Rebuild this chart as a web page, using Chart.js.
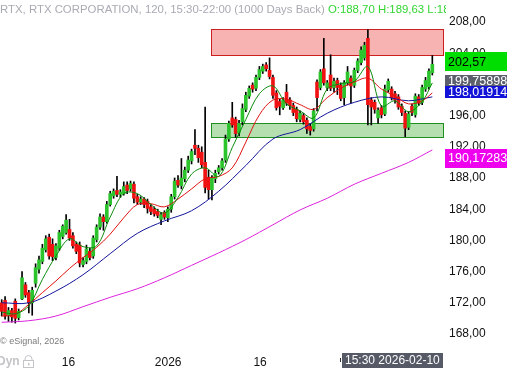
<!DOCTYPE html>
<html>
<head>
<meta charset="utf-8">
<script src="https://cdn.jsdelivr.net/npm/chart.js@4.4.1/dist/chart.umd.min.js"></script>
<style>
  html, body { margin: 0; padding: 0; background: #fff; }
  #wrap { width: 507px; height: 368px; position: relative; }
</style>
</head>
<body>
<div id="wrap"><canvas id="chart"></canvas></div>
<script>
// RTX, 120 min candles
const candleOpen = [
  172.0, 172.3, 170.4, 171.0, 172.2, 170.1, 172.5, 174.3, 173.3, 172.0,
  174.5, 176.3, 177.3, 178.8, 180.4, 179.5, 177.8, 179.0, 180.5, 181.0,
  181.4, 180.6, 179.5, 179.4, 176.9, 177.3, 178.6, 178.0, 180.1, 181.7,
  183.0, 182.4, 184.6, 185.7, 186.4, 185.9, 186.0, 187.1, 186.6, 187.2,
  185.6, 184.9, 185.3, 185.0, 184.3, 184.0, 183.7, 182.7, 183.6, 182.9,
  184.0, 185.6, 187.7, 187.0, 187.9, 189.0, 190.2, 192.2, 191.8, 191.3,
  190.0, 188.1, 186.5, 187.9, 188.8, 189.3, 190.3, 193.0, 195.7, 195.5,
  193.8, 195.2, 196.8, 198.5, 199.9, 199.5, 200.9, 201.7, 202.5, 201.8,
  200.9, 198.9, 197.8, 197.0, 199.0, 198.0, 197.3, 196.8, 195.5, 196.0,
  195.4, 194.6, 194.3, 200.3, 199.6, 202.0, 199.6, 201.2, 199.6, 200.5,
  199.9, 198.3, 200.2, 200.8, 199.9, 201.8, 202.8, 203.4, 205.9, 198.0,
  197.7, 195.7, 197.0, 196.2, 199.3, 199.4, 198.8, 198.4, 197.2, 196.3,
  194.5, 197.2, 196.1, 198.4, 197.7, 199.4, 199.7, 201.5
];
const candleHigh = [
  172.4, 172.8, 171.4, 171.3, 172.5, 171.2, 176.0, 174.6, 173.6, 174.0,
  177.0, 178.0, 179.5, 180.6, 180.8, 180.2, 179.6, 181.3, 182.0, 183.3,
  182.7, 181.0, 179.8, 179.8, 177.8, 179.4, 179.0, 180.6, 182.0, 183.4,
  183.3, 185.0, 186.3, 186.6, 188.2, 186.5, 187.5, 187.5, 187.6, 187.5,
  185.9, 185.6, 185.5, 185.3, 184.6, 184.3, 184.0, 183.6, 183.8, 184.3,
  185.9, 188.0, 188.3, 190.5, 189.4, 190.8, 191.7, 194.2, 192.2, 192.0,
  197.1, 189.0, 188.3, 189.0, 189.6, 190.5, 193.5, 195.3, 197.7, 195.8,
  195.4, 197.5, 199.0, 199.8, 200.2, 201.2, 202.3, 202.6, 202.8, 203.4,
  201.2, 199.2, 198.1, 198.3, 200.0, 198.3, 197.6, 197.1, 196.6, 196.3,
  195.7, 194.9, 196.9, 200.6, 201.9, 205.9, 200.5, 203.8, 200.8, 200.8,
  200.2, 200.5, 202.3, 201.1, 202.1, 203.3, 204.8, 205.4, 207.0, 198.3,
  198.0, 197.0, 197.3, 199.9, 200.7, 199.7, 199.1, 198.7, 197.5, 196.6,
  196.5, 197.5, 198.8, 198.7, 199.9, 200.9, 202.0, 203.7
];
const candleLow = [
  170.3, 169.9, 169.6, 169.5, 169.4, 169.8, 172.4, 172.7, 170.7, 170.4,
  174.0, 175.8, 177.0, 178.5, 177.6, 177.4, 177.5, 178.7, 180.2, 180.8,
  180.0, 179.0, 178.3, 176.6, 176.6, 177.0, 177.5, 177.7, 179.8, 181.4,
  181.3, 182.2, 184.4, 185.4, 185.6, 185.5, 185.8, 186.0, 186.3, 184.8,
  184.6, 184.6, 184.2, 183.5, 183.3, 183.1, 182.9, 182.0, 182.7, 182.4,
  183.6, 185.3, 186.8, 186.6, 187.5, 188.7, 189.8, 191.0, 190.0, 189.3,
  186.1, 185.3, 185.2, 187.4, 188.5, 189.0, 190.0, 192.7, 194.5, 193.2,
  193.4, 194.8, 196.5, 198.2, 199.0, 199.2, 200.6, 201.4, 201.7, 200.7,
  198.2, 196.7, 196.1, 196.8, 197.3, 196.8, 196.0, 195.2, 195.2, 194.9,
  193.7, 193.5, 194.0, 196.6, 199.3, 199.9, 199.2, 199.2, 199.0, 198.7,
  197.9, 197.4, 199.9, 197.6, 199.6, 201.5, 202.5, 203.1, 194.8, 194.8,
  196.3, 195.0, 195.7, 196.0, 199.0, 198.0, 197.6, 196.8, 196.0, 193.3,
  194.2, 196.0, 195.8, 197.3, 197.4, 199.1, 199.4, 201.2
];
const candleClose = [
  170.9, 170.3, 171.0, 170.2, 170.0, 170.9, 175.2, 173.0, 172.0, 173.6,
  176.5, 177.5, 179.0, 180.2, 178.0, 177.9, 179.3, 181.0, 181.8, 182.6,
  180.3, 179.3, 178.6, 177.1, 177.4, 178.9, 177.8, 180.3, 181.7, 183.0,
  182.4, 184.6, 186.0, 186.3, 185.9, 186.2, 186.9, 186.4, 187.3, 185.4,
  184.9, 185.3, 184.6, 184.1, 183.7, 183.4, 183.2, 183.3, 183.0, 184.0,
  185.6, 187.6, 187.1, 188.0, 189.0, 190.3, 191.4, 191.8, 190.6, 189.7,
  186.8, 186.5, 188.0, 188.6, 189.3, 190.2, 193.0, 195.0, 194.8, 193.7,
  195.0, 196.9, 198.6, 199.5, 199.4, 200.9, 201.9, 202.3, 202.0, 201.0,
  198.6, 197.0, 197.2, 198.0, 197.6, 197.3, 196.4, 195.6, 196.3, 195.2,
  194.3, 194.1, 196.6, 198.3, 201.6, 200.2, 200.2, 199.5, 200.4, 199.6,
  198.2, 200.2, 201.6, 199.8, 201.8, 203.0, 204.4, 205.0, 197.4, 197.1,
  196.8, 196.7, 196.1, 199.4, 200.4, 198.3, 198.0, 197.1, 196.4, 194.4,
  196.2, 196.4, 198.5, 197.6, 199.6, 200.5, 201.7, 202.57
];

// скользящие средние
const maFastIdx = [0, 4, 8, 12, 16, 20, 24, 28, 32, 36, 40, 44, 48, 52, 56, 60, 64,
  68, 72, 76, 80, 84, 88, 92, 96, 100, 104, 108, 112, 116, 120, 124, 127];
const maGreen = [170.8, 170.6, 171.6, 175.0, 178.0, 180.2, 179.2, 179.3, 183.0, 186.0,
  186.0, 184.6, 183.5, 185.5, 188.5, 189.3, 188.2, 191.9, 195.5, 198.8, 199.8, 197.5,
  196.6, 195.7, 199.4, 200.1, 200.4, 202.3, 197.2, 197.9, 196.5, 197.8, 200.2];
const maRed = [170.3, 170.5, 171.8, 173.3, 174.8, 176.4, 177.8, 179.1, 180.8, 182.9,
  184.6, 184.7, 184.3, 185.3, 186.6, 187.9, 188.2, 189.3, 192.6, 196.1, 198.0, 198.1,
  197.4, 196.8, 198.3, 199.5, 200.3, 200.8, 199.4, 198.5, 197.5, 197.9, 198.9];
const maSlowIdx = [0, 8, 16, 24, 32, 40, 48, 56, 64, 72, 80, 88, 96, 104, 112, 120, 127];
const maBlue = [172.0, 172.0, 173.5, 175.6, 178.3, 180.9, 182.5, 183.8, 186.3, 189.6,
  193.0, 194.2, 196.3, 197.7, 198.4, 197.9, 198.4];
const maMagenta = [169.5, 169.7, 170.3, 171.5, 172.7, 173.8, 175.2, 176.8, 178.4, 180.1,
  182.0, 183.9, 185.4, 187.2, 188.6, 190.0, 191.6];

// зоны сопротивления / поддержки
const zoneStartIdx = 61.7;
const zoneLow = [203.75, 193.2];
const zoneHigh = [207.05, 195.1];

// подписи осей
const yTicks = [168, 172, 176, 180, 184, 188, 192, 196, 200, 204, 208];
const xTickIdx = [19.7, 49.1, 76.2];
const xTickText = ['16', '2026', '16'];

// ценовые метки справа
const tagText = ['202,57', '199,75898', '198,01914', '190,17283'];
const tagValue = [202.57, 199.75898, 198.01914, 190.17283];

const FONT = 'Liberation Sans';

const bodyColors = candleOpen.map((o, i) => candleClose[i] >= o ? '#2cc42c' : '#f01212');
const toPoints = (idx, vals) => idx.map((x, k) => ({ x: x, y: vals[k] }));

const zonesPlugin = {
  id: 'zones',
  beforeDatasetsDraw(chart) {
    const { ctx, chartArea, scales } = chart;
    const fills = ['#f7b2b2', '#b6dfb0'];
    const strokes = ['#cc1f1f', '#1f8f1f'];
    const left = Math.round(scales.x.getPixelForValue(zoneStartIdx)) + 0.5;
    ctx.save();
    zoneLow.forEach((lo, k) => {
      const top = Math.round(scales.y.getPixelForValue(zoneHigh[k])) + 0.5;
      const bot = Math.round(scales.y.getPixelForValue(lo)) + 0.5;
      const right = chartArea.right + 0.5;
      ctx.fillStyle = fills[k];
      ctx.fillRect(left, top, right - left, bot - top);
      ctx.strokeStyle = strokes[k];
      ctx.lineWidth = 1;
      ctx.strokeRect(left, top, right - left, bot - top);
    });
    ctx.restore();
  }
};

const textPlugin = {
  id: 'texts',
  afterDraw(chart) {
    const { ctx, chartArea, scales } = chart;
    ctx.save();
    // заголовок
    ctx.save();
    ctx.beginPath();
    ctx.rect(0, 0, chartArea.right + 3, 20);
    ctx.clip();
    ctx.textBaseline = 'middle';
    ctx.font = '11.4px ' + FONT;
    ctx.fillStyle = '#a9abb3';
    const t1 = 'RTX, RTX CORPORATION, 120, 15:30-22:00 (1000 Days Back)';
    ctx.fillText(t1, 0, 10);
    const w1 = ctx.measureText(t1 + ' ').width;
    ctx.fillStyle = '#33d633';
    ctx.fillText('O:188,70 H:189,63 L:188,12 C:189,40', w1, 10);
    ctx.restore();

    // копирайт
    ctx.font = '9px ' + FONT;
    ctx.fillStyle = '#7a7a7a';
    ctx.textBaseline = 'middle';
    ctx.fillText('\u00A9 eSignal, 2026', 0, 342);

    // Dyn + замок
    ctx.font = 'bold 12px ' + FONT;
    ctx.fillStyle = '#c4c4c8';
    ctx.fillText('Dyn', -3, 362);
    ctx.strokeStyle = '#c4c4c8';
    ctx.lineWidth = 1;
    ctx.beginPath();
    ctx.arc(28.5, 359, 3.5, Math.PI, 0);
    ctx.moveTo(25, 359); ctx.lineTo(25, 361);
    ctx.moveTo(32, 359); ctx.lineTo(32, 361);
    ctx.stroke();
    ctx.strokeRect(23.5, 360.5, 10, 7);
    ctx.fillRect(28, 363, 1.5, 2.5);

    // курсор по времени
    ctx.fillStyle = '#555a66';
    ctx.fillRect(342, 353, 101, 15);
    ctx.fillStyle = '#ffffff';
    ctx.font = '12px ' + FONT;
    ctx.fillText('15:30 2026-02-10', 345, 361);
    ctx.fillStyle = '#333';
    ctx.fillRect(340, 358, 1, 4);

    // ценовые метки
    const boxX = chartArea.right + 2;
    const tagStyle = [
      { bg: '#00dd00', fg: '#000000', shift: -2.4, h: 19 },
      { bg: '#5c606c', fg: '#ffffff', shift: -5.3, h: 12 },
      { bg: '#1212d8', fg: '#ffffff', shift: -7.9, h: 12 },
      { bg: '#ee00ee', fg: '#ffffff', shift: -3, h: 19 }
    ];
    ctx.font = '12.5px ' + FONT;
    tagText.forEach((txt, k) => {
      const st = tagStyle[k];
      const cy = scales.y.getPixelForValue(tagValue[k]) + st.shift;
      ctx.fillStyle = st.bg;
      ctx.fillRect(boxX, Math.round(cy - st.h / 2), chart.width - boxX, st.h);
      ctx.fillStyle = st.fg;
      ctx.fillText(txt, boxX + 3, cy + 0.5);
    });
    ctx.restore();
  }
};

new Chart(document.getElementById('chart'), {
  type: 'bar',
  data: {
    datasets: [
      { type: 'line', data: toPoints(maFastIdx, maGreen), borderColor: '#0b8a0b', borderWidth: 1, pointRadius: 0, tension: 0.35, order: 0 },
      { type: 'line', data: toPoints(maFastIdx, maRed), borderColor: '#e01010', borderWidth: 1, pointRadius: 0, tension: 0.35, order: 0 },
      { type: 'line', data: toPoints(maSlowIdx, maBlue), borderColor: '#14149a', borderWidth: 1, pointRadius: 0, tension: 0.35, order: 0 },
      { type: 'line', data: toPoints(maSlowIdx, maMagenta), borderColor: '#dd22dd', borderWidth: 1, pointRadius: 0, tension: 0.35, order: 0 },
      {
        data: candleOpen.map((o, i) => ({ x: i, y: [o, candleClose[i]] })),
        backgroundColor: bodyColors, borderWidth: 0,
        barThickness: 3, minBarLength: 1, grouped: false, order: 1
      },
      {
        data: candleHigh.map((h, i) => ({ x: i, y: [candleLow[i], h] })),
        backgroundColor: '#000000', barThickness: 1, grouped: false, order: 2
      }
    ]
  },
  options: {
    responsive: true,
    maintainAspectRatio: false,
    animation: false,
    layout: { padding: 0 },
    plugins: { legend: { display: false }, tooltip: { enabled: false } },
    scales: {
      x: {
        type: 'linear', min: -0.5, max: 130.15, offset: false,
        grid: { display: false, drawTicks: false }, border: { display: false },
        afterBuildTicks: s => { s.ticks = xTickIdx.map(v => ({ value: v })); },
        afterFit: s => { s.height = 16; s.paddingLeft = 0; s.paddingRight = 0; },
        ticks: {
          padding: 3, maxRotation: 0, autoSkip: false, color: '#111',
          font: { family: FONT, size: 12 },
          callback: (v, k) => xTickText[k]
        }
      },
      y: {
        position: 'right', min: 165.69, max: 210.82,
        grid: { display: false, drawTicks: false }, border: { display: false },
        afterBuildTicks: s => { s.ticks = yTicks.map(v => ({ value: v })); },
        afterFit: s => { s.width = 64; s.paddingTop = 0; s.paddingBottom = 0; },
        ticks: {
          padding: 6, color: '#111',
          font: { family: FONT, size: 12 },
          callback: v => v.toFixed(2).replace('.', ',')
        }
      }
    }
  },
  plugins: [zonesPlugin, textPlugin]
});
</script>
</body>
</html>
